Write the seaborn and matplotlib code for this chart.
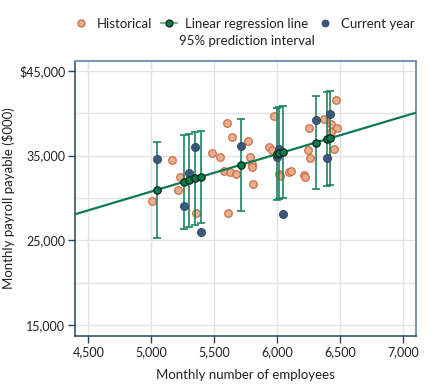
import numpy as np
import pandas as pd
import matplotlib
matplotlib.use("Agg")
import matplotlib.pyplot as plt
import seaborn as sns
from matplotlib.lines import Line2D
from matplotlib.ticker import FixedLocator, FixedFormatter

# ---------------- data ----------------
hist_employees = [5008, 5162, 5230, 5214, 5355, 5482, 5548, 5603, 5638, 5575, 5627, 5675,
                  5609, 5767, 5786, 5797, 5802, 5810, 5971, 5934, 5956, 6011, 6024, 6095,
                  6106, 6212, 6222, 6241, 6260, 6254, 6373, 6424, 6468, 6474, 6430, 6450]
hist_payroll = [29615, 34517, 32479, 30911, 28237, 35271, 34835, 38841, 37156, 33221, 33032, 32797,
                28201, 36685, 34800, 34010, 33657, 31618, 39631, 36013, 35695, 32832, 32632, 33032,
                33185, 32714, 32514, 35625, 34682, 38217, 39277, 38688, 41528, 38217, 37816, 35813]

cur_employees = [5048, 5257, 5302, 5347, 5392, 5709, 5995, 6016, 6043, 6305, 6397, 6421]
cur_payroll = [34600, 29097, 32985, 36013, 26033, 36166, 34870, 35778, 28083, 39230, 34753, 39866]
pi_half_width = [5656, 5538, 5502, 5455, 5438, 5396, 5420, 5420, 5425, 5461, 5500, 5505]

reg_intercept = 8632
reg_slope = 4.427

x_ticks = [4500, 5000, 5500, 6000, 6500, 7000]
x_tick_labels = ["4,500", "5,000", "5,500", "6,000", "6,500", "7,000"]
y_ticks = [15000, 25000, 35000, 45000]
y_tick_labels = ["15,000", "25,000", "35,000", "$45,000"]
y_minor_ticks = [20000, 30000, 40000]

legend_labels = ["Historical", "Linear regression line", "Current year"]
legend_sublabel = "95% prediction interval"

# ---------------- styling ----------------
C_HIST_FACE = "#e9ab8c"
C_HIST_EDGE = "#cc6a42"
C_CUR = "#3b5878"
C_REG = "#0f7a52"
C_BAR = "#1e8560"
C_NAVY = "#24435e"
C_SPINE_LIGHT = "#7f97aa"
C_TEXT = "#222222"

sns.set_theme(style="white")
plt.rcParams['font.family'] = ['Lato', 'DejaVu Sans']

fig = plt.figure(figsize=(4.46, 3.92), dpi=100)
ax = fig.add_axes([0.168, 0.143, 0.764, 0.702])

xlim = (4394, 7098)
ylim = (13744, 46182)

hist_df = pd.DataFrame({"employees": hist_employees, "payroll": hist_payroll})
cur_df = pd.DataFrame({"employees": cur_employees, "payroll": cur_payroll,
                       "half": pi_half_width})
cur_df["pred"] = reg_intercept + reg_slope * cur_df["employees"]

line_x = np.array(xlim, dtype=float)
line_df = pd.DataFrame({"employees": line_x, "payroll": reg_intercept + reg_slope * line_x})

ax.set_axisbelow(True)

sns.scatterplot(data=hist_df, x="employees", y="payroll", ax=ax, s=30,
                color=C_HIST_FACE, edgecolor=C_HIST_EDGE, linewidth=0.9,
                alpha=0.95, zorder=2, legend=False)
sns.lineplot(data=line_df, x="employees", y="payroll", ax=ax, color=C_REG,
             lw=1.6, zorder=3, legend=False)
ax.errorbar(cur_df["employees"], cur_df["pred"], yerr=cur_df["half"], fmt="none",
            ecolor=C_BAR, elinewidth=1.2, capsize=3, capthick=1.2, zorder=4)
sns.scatterplot(data=cur_df, x="employees", y="payroll", ax=ax, s=34,
                color=C_CUR, edgecolor="#2d4763", linewidth=0.6, zorder=5, legend=False)
sns.scatterplot(data=cur_df, x="employees", y="pred", ax=ax, s=28,
                color="#0c7a4c", edgecolor="#0a2618", linewidth=0.9, zorder=6, legend=False)

ax.set_xlim(*xlim)
ax.set_ylim(*ylim)

ax.xaxis.set_major_locator(FixedLocator(x_ticks))
ax.xaxis.set_major_formatter(FixedFormatter(x_tick_labels))
ax.yaxis.set_major_locator(FixedLocator(y_ticks))
ax.yaxis.set_major_formatter(FixedFormatter(y_tick_labels))
ax.yaxis.set_minor_locator(FixedLocator(y_minor_ticks))

ax.grid(True, which="both", color="#e3e3e3", lw=1.0)
ax.tick_params(axis="both", which="both", direction="out", length=5, width=1.0,
               color=C_NAVY, labelsize=9, labelcolor=C_TEXT, pad=2)
ax.tick_params(left=True, bottom=True)

for side in ["left", "bottom"]:
    ax.spines[side].set_color(C_NAVY)
    ax.spines[side].set_linewidth(1.1)
for side in ["top", "right"]:
    ax.spines[side].set_color(C_SPINE_LIGHT)
    ax.spines[side].set_linewidth(1.5)

ax.set_xlabel("Monthly number of employees", fontsize=9.5, color=C_TEXT, labelpad=8)
ax.set_ylabel("Monthly payroll payable ($000)", fontsize=9.5, color=C_TEXT, labelpad=3)

handles = [
    Line2D([], [], marker="o", ls="none", mfc=C_HIST_FACE, mec=C_HIST_EDGE, ms=5, mew=0.9),
    Line2D([], [], marker="o", color="#6fb597", lw=1.5, mfc="#0c7a4c", mec="#0a2618", ms=5, mew=0.9),
    Line2D([], [], marker="o", ls="none", mfc=C_CUR, mec="#2d4763", ms=5, mew=0.6),
]
leg = fig.legend(handles, legend_labels, loc="center", bbox_to_anchor=(0.547, 1 - 24 / 392),
                 ncol=3, frameon=False, fontsize=9.5, handlelength=1.2, handletextpad=0.6,
                 columnspacing=0.7, borderaxespad=0, borderpad=0)
for t in leg.get_texts():
    t.set_color(C_TEXT)

# second line of the regression legend entry, centred under it
fig.canvas.draw()
bb = leg.get_texts()[1].get_window_extent()
cx = (bb.x0 + bb.x1) / 2 / fig.bbox.width
fig.text(cx, 1 - 41 / 392, legend_sublabel, ha="center", va="center",
         fontsize=9.5, color=C_TEXT)

fig.savefig("out.png", dpi=100)
